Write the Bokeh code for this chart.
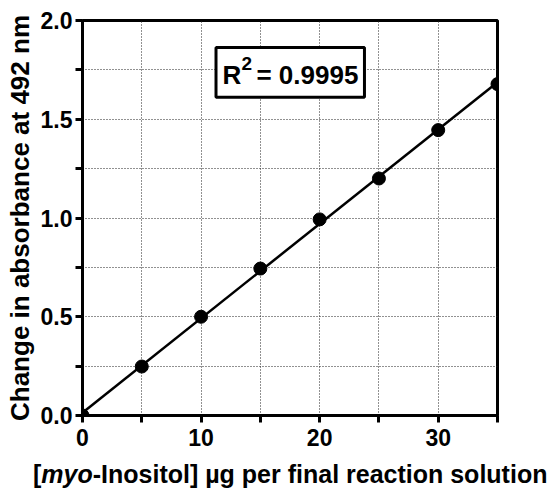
import numpy as np
from bokeh.plotting import figure
from bokeh.layouts import column
from bokeh.models import Range1d, FixedTicker, PrintfTickFormatter, Label, BoxAnnotation, Div
from bokeh.embed import file_html
from bokeh.resources import INLINE

# data
conc = [0, 5, 10, 15, 20, 25, 30, 35]
absorb = [0.0, 0.248, 0.50, 0.744, 0.993, 1.20, 1.445, 1.678]
x_major = [0, 10, 20, 30]
x_minor = [5, 15, 25, 35]
y_major = [0.0, 0.5, 1.0, 1.5, 2.0]
y_minor = [0.25, 0.75, 1.25, 1.75]
r2_parts = ["R", "2", "= 0.9995"]
y_title = "Change in absorbance at 492 nm"
x_title_html = "[<i>myo</i>-Inositol] µg per final reaction solution"

FONT = "Liberation Sans"
W, H = 545, 460

p = figure(width=W, height=H, output_backend="svg", toolbar_location=None,
           x_range=Range1d(0, 35), y_range=Range1d(0, 2.0))
p.min_border_left = 82
p.min_border_right = 48
p.min_border_top = 20
p.min_border_bottom = 45
p.background_fill_color = "white"
p.border_fill_color = "white"
p.outline_line_color = "black"
p.outline_line_width = 3

# axes
for ax in (p.xaxis, p.yaxis):
    ax.axis_line_width = 3
    ax.major_tick_line_width = 3
    ax.minor_tick_line_width = 3
    ax.major_tick_out = 7
    ax.major_tick_in = 0
    ax.minor_tick_out = 7
    ax.minor_tick_in = 0
    ax.major_label_text_font = FONT
    ax.major_label_text_font_style = "bold"
    ax.major_label_text_font_size = "23px"
    ax.major_label_text_color = "black"
    ax.axis_label_text_font = FONT
    ax.axis_label_text_font_style = "bold"
    ax.axis_label_text_font_size = "26px"
    ax.axis_label_text_color = "black"

p.xaxis.ticker = FixedTicker(ticks=x_major, minor_ticks=x_minor)
p.yaxis.ticker = FixedTicker(ticks=y_major, minor_ticks=y_minor)
p.yaxis.formatter = PrintfTickFormatter(format="%.1f")
p.xaxis.major_label_standoff = 6
p.yaxis.major_label_standoff = 3
p.yaxis.axis_label = y_title
p.yaxis.axis_label_standoff = 3

# grids
for g in (p.xgrid, p.ygrid):
    g.grid_line_color = "#222222"
    g.grid_line_dash = "1 2"
    g.grid_line_width = 1
    g.minor_grid_line_color = "#222222"
    g.minor_grid_line_dash = "1 2"
    g.minor_grid_line_width = 1

# fit line
slope, intercept = np.polyfit(conc, absorb, 1)
fx = [conc[0], conc[-1]]
fy = [slope * v + intercept for v in fx]
p.line(fx, fy, line_color="black", line_width=2.5)
p.scatter(conc, absorb, size=13, fill_color="black", line_color="black")

# R^2 box
p.add_layout(BoxAnnotation(left=11.26, right=23.78, bottom=1.611, top=1.863,
                           fill_color="white", fill_alpha=1.0,
                           line_color="black", line_width=3, line_alpha=1.0))
r2_x = [11.81, 13.41, 14.67]
r2_y = [1.722, 1.782, 1.722]
r2_size = ["26px", "19px", "26px"]
for t, xx, yy, sz in zip(r2_parts, r2_x, r2_y, r2_size):
    p.add_layout(Label(x=xx, y=yy, text=t, text_align="left",
                       text_baseline="alphabetic", text_font=FONT,
                       text_font_style="bold", text_font_size=sz,
                       text_color="black"))

# x title (with italic "myo") below the plot
div = Div(text=x_title_html, width=W, height=28, margin=(0, 0, 0, 0),
          styles={"font-family": FONT, "font-weight": "bold", "font-size": "25px",
                  "line-height": "28px", "color": "black", "white-space": "nowrap",
                  "padding-left": "33px", "text-align": "left", "overflow": "visible"})

layout = column(p, div, spacing=0)
open("out.html", "w").write(file_html(layout, INLINE))
